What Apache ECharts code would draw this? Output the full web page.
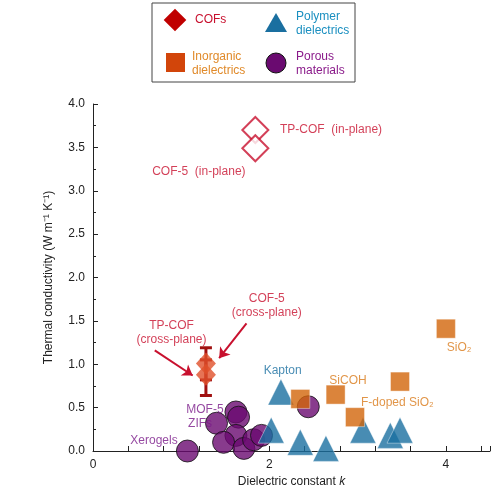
<!DOCTYPE html><html><head><meta charset="utf-8"><script src="https://cdn.jsdelivr.net/npm/echarts@6/dist/echarts.min.js"></script></head><body style="margin:0"><div id="c" style="width:500px;height:496px"></div><script>
const cofInPlane=[[1.84,3.70],[1.84,3.49]];
const cofCross=[[1.28,1.01],[1.28,0.88]];
const errBars=[[1.28,0.64,1.19],[1.28,0.82,1.05]];
const polymer=[[2.13,0.68],[2.02,0.24],[2.35,0.10],[2.64,0.03],[3.06,0.24],[3.37,0.18],[3.48,0.24]];
const inorganic=[[2.35,0.60],[2.75,0.65],[2.97,0.39],[3.48,0.80],[4.0,1.41]];
const porous=[[1.07,0.0],[1.62,0.45],[1.65,0.39],[1.40,0.32],[1.62,0.18],[1.48,0.10],[1.71,0.03],[1.82,0.13],[1.91,0.18],[2.44,0.51]];
const arrows=[[[0.70,1.16],[1.13,0.87]],[[1.74,1.47],[1.43,1.07]]];
const labels=[
 {v:[2.12,3.70],t:'TP-COF  (in-plane)',c:'#c8102e',p:'right'},
 {v:[1.20,3.22],t:'COF-5  (in-plane)',c:'#c8102e',p:'inside'},
 {v:[0.89,1.36],t:'TP-COF\n(cross-plane)',c:'#c8102e',p:'inside'},
 {v:[1.97,1.68],t:'COF-5\n(cross-plane)',c:'#c8102e',p:'inside'},
 {v:[2.15,0.93],t:'Kapton',c:'#1a6fa0',p:'inside'},
 {v:[2.89,0.81],t:'SiCOH',c:'#d97a1a',p:'inside'},
 {v:[3.45,0.56],t:'F-doped SiO₂',c:'#d97a1a',p:'inside'},
 {v:[4.15,1.19],t:'SiO₂',c:'#d97a1a',p:'inside'},
 {v:[1.48,0.48],t:'MOF-5',c:'#7a1a8a',p:'left'},
 {v:[1.35,0.31],t:'ZIFs',c:'#7a1a8a',p:'left'},
 {v:[0.96,0.12],t:'Xerogels',c:'#7a1a8a',p:'left'}];
const xLabels=['0','2','4'];
const ch=echarts.init(document.getElementById('c'));
ch.setOption({
 animation:false,
 grid:{left:93,right:10,top:104,bottom:45},
 xAxis:{type:'value',min:0,max:4.5,interval:0.4,
  axisLine:{onZero:false,lineStyle:{color:'#222'}},axisTick:{inside:true,length:5,lineStyle:{color:'#222'}},splitLine:{show:false},
  axisLabel:{color:'#222',fontSize:12,formatter:v=>{const r=Math.round(v*10)/10;return (r===0||r===2||r===4)?xLabels[r/2]:'';}},
  name:'Dielectric constant {i|k}',nameLocation:'middle',nameGap:24,
  nameTextStyle:{color:'#222',fontSize:12,rich:{i:{fontStyle:'italic',fontSize:12,color:'#222'}}}},
 yAxis:{type:'value',min:0,max:4,interval:0.5,
  axisLine:{show:true,lineStyle:{color:'#222'}},axisTick:{inside:true,length:5,lineStyle:{color:'#222'}},
  minorTick:{show:true,splitNumber:2,length:3,lineStyle:{color:'#222'}},splitLine:{show:false},
  axisLabel:{color:'#222',fontSize:12,formatter:v=>v.toFixed(1)},
  name:'Thermal conductivity (W m⁻¹ K⁻¹)',nameLocation:'middle',nameGap:38,nameTextStyle:{color:'#222',fontSize:12}},
 graphic:[
  {type:'rect',shape:{x:152,y:3,width:203,height:79},style:{fill:'#fff',stroke:'#444',lineWidth:1}},
  {type:'rect',shape:{x:167,y:12,width:16,height:16},rotation:Math.PI/4,originX:175,originY:20,style:{fill:'#c00000'}},
  {type:'text',x:195,y:14,style:{text:'COFs',fill:'#c8102e',font:'12px Arial'}},
  {type:'polygon',shape:{points:[[265,32],[276,13],[287,32]]},style:{fill:'#1a6fa0'}},
  {type:'text',x:296,y:10,style:{text:'Polymer\ndielectrics',fill:'#1a8fc0',font:'12px Arial',lineHeight:14,align:'left'}},
  {type:'rect',shape:{x:166,y:53,width:19,height:19},style:{fill:'#d2450a'}},
  {type:'text',x:192,y:50,style:{text:'Inorganic\ndielectrics',fill:'#e08a2a',font:'12px Arial',lineHeight:14}},
  {type:'circle',shape:{cx:276,cy:63,r:10},style:{fill:'#6a0a70',stroke:'#111',lineWidth:1}},
  {type:'text',x:296,y:50,style:{text:'Porous\nmaterials',fill:'#8a1a8a',font:'12px Arial',lineHeight:14}}
 ],
 series:[
  {type:'scatter',data:porous,symbol:'circle',symbolSize:22,itemStyle:{color:'#6a0a70',borderColor:'#111',borderWidth:1}},
  {type:'scatter',data:polymer,symbol:'triangle',symbolSize:26,itemStyle:{color:'#1a6fa0',borderColor:'#fff',borderWidth:0.5}},
  {type:'scatter',data:inorganic,symbol:'rect',symbolSize:19,itemStyle:{color:'#d2650a',borderColor:'#fff',borderWidth:0.5}},
  {type:'scatter',data:cofInPlane,symbol:'diamond',symbolSize:[26,26],itemStyle:{color:'#fff',borderColor:'#c8102e',borderWidth:2}},
  {type:'scatter',data:cofCross,symbol:'diamond',symbolSize:[20,22],itemStyle:{color:'#e0502a',opacity:0.8}},
  {type:'custom',data:errBars,renderItem:(p,api)=>{
    const x=api.value(0),lo=api.coord([x,api.value(1)]),hi=api.coord([x,api.value(2)]);const w=6;
    const st={stroke:'#a01010',lineWidth:3};
    return {type:'group',children:[
     {type:'line',shape:{x1:lo[0],y1:lo[1],x2:hi[0],y2:hi[1]},style:st},
     {type:'line',shape:{x1:lo[0]-w,y1:lo[1],x2:lo[0]+w,y2:lo[1]},style:st},
     {type:'line',shape:{x1:hi[0]-w,y1:hi[1],x2:hi[0]+w,y2:hi[1]},style:st}]};}},
  {type:'lines',coordinateSystem:'cartesian2d',data:arrows.map(a=>({coords:a})),symbol:['none','arrow'],symbolSize:10,lineStyle:{color:'#c8102e',width:2,opacity:1}},
  {type:'scatter',symbolSize:0,silent:true,data:labels.map(l=>({value:l.v,label:{show:true,formatter:l.t,color:l.c,position:l.p,fontSize:12,lineHeight:14,distance:0}}))}
 ]});
</script></body></html>
